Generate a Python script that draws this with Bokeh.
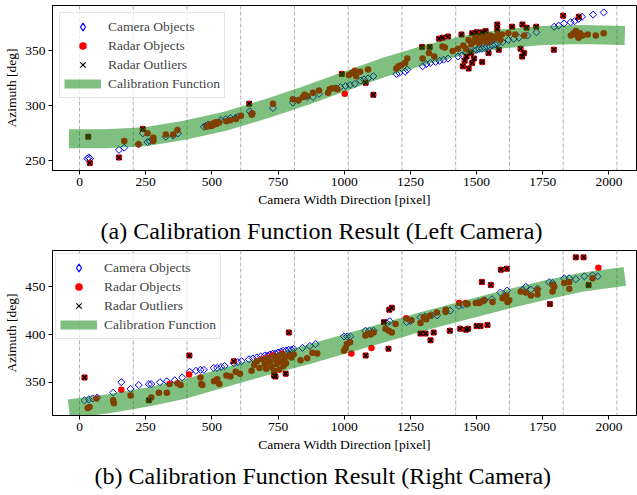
import numpy as np
from bokeh.plotting import figure
from bokeh.models import Span, Legend, LegendItem, Title, FixedTicker, Range1d
from bokeh.layouts import column
from bokeh.embed import file_html
from bokeh.resources import INLINE

FONT = "Liberation Serif"

x_ticks = [0, 250, 500, 750, 1000, 1250, 1500, 1750, 2000]
left_y_ticks = [250, 300, 350]
right_y_ticks = [350, 400, 450]
partitions = [0, 203, 406, 609, 812, 1015, 1218, 1421, 1624, 1827, 2030]

# ---------------- Left camera ----------------
left_curve_x = [-40, 100, 250, 400, 550, 700, 850, 1000, 1150, 1300, 1450, 1600, 1750, 1900, 2060]
left_curve_y = [270, 270, 272, 278, 286, 297, 309, 322, 335, 346, 355, 361, 364, 365, 364]

left_cam_x = [30, 35, 40, 149, 169, 223, 239, 257, 266, 276, 326, 354, 372, 470, 478, 486, 494, 502,
              520, 534, 553, 570, 590, 598, 643, 650, 731, 806, 827, 860, 882, 905, 968, 985, 1005,
              1022, 1040, 1062, 1075, 1090, 1110, 1197, 1208, 1230, 1238, 1296, 1310, 1325, 1345,
              1360, 1375, 1392, 1430, 1445, 1460, 1475, 1490, 1500, 1510, 1520, 1530, 1540, 1550,
              1560, 1570, 1580, 1598, 1620, 1640, 1660, 1692, 1726, 1793, 1810, 1830, 1855, 1870,
              1885, 1898, 1940, 1980]
left_cam_y = [252, 253, 252, 260, 262, 265, 275, 267, 268, 269, 272, 273, 275, 281, 282, 283, 282, 283,
              284, 287, 288, 289, 289, 290, 295, 293, 298, 303, 305, 308, 308, 311, 316, 317, 318,
              319, 320, 323, 324, 325, 327, 329, 330, 331, 333, 336, 338, 339, 340,
              341, 342, 343, 345, 346, 348, 349, 350, 351, 352, 352, 353, 354, 354,
              355, 356, 357, 358, 360, 361, 362, 364, 367, 372, 373, 375, 376, 377,
              379, 381, 383, 385]

left_radar_x = [169, 223, 257, 279, 279, 326, 354, 370, 480, 488, 495, 500, 505, 510, 515, 520, 528,
                555, 570, 591, 610, 651, 653, 731, 806, 827, 844, 850, 859, 882, 905, 939, 945, 955,
                968, 974, 1002, 1018, 1030, 1040, 1045, 1060, 1090, 1197, 1205, 1215, 1230, 1238,
                1296, 1320, 1340, 1371, 1380, 1410, 1430, 1450, 1460, 1470, 1480, 1490, 1495, 1500,
                1505, 1510, 1515, 1520, 1525, 1530, 1535, 1540, 1545, 1550, 1555, 1560, 1570, 1580,
                1590, 1596, 1620, 1646, 1680, 1856, 1866, 1875, 1880, 1885, 1890, 1900, 1920, 1950, 1980]
left_radar_y = [268, 265, 275, 271, 268, 274, 274, 278, 281, 282, 283, 282, 284, 283, 285, 284, 285,
                286, 287, 288, 291, 292, 293, 302, 306, 305, 308, 310, 309, 312, 314, 312, 315, 316,
                316, 315, 311, 328, 330, 332, 327, 331, 333, 334, 336, 337, 339, 343,
                343, 348, 345, 354, 353, 350, 352, 355, 352, 360, 356, 358, 362, 360,
                364, 357, 361, 365, 359, 362, 366, 358, 361, 364, 360, 363, 362, 365,
                360, 365, 366, 365, 364, 364, 366, 368, 364, 362, 366, 364, 365, 364, 366]

left_outlier_x = [33, 39, 149, 239, 641, 991, 1081, 1110, 1294, 1323, 1358, 1372, 1392, 1443, 1483,
                  1500, 1520, 1534, 1578, 1578, 1634, 1673, 1689, 1725, 1827, 1886, 1792, 1448, 1455,
                  1462, 1470, 1478, 1483, 1490, 1521, 1545, 1584, 1666, 1672, 1679]
left_outlier_y = [272, 248, 253, 279, 302, 329, 321, 310, 353.6, 353.6, 361, 362, 363, 365, 366,
                  367, 367, 368, 374, 370, 372, 374, 371, 372, 382, 381, 351, 336, 341,
                  345, 334, 348, 339, 343, 340, 348, 351, 352, 345, 348]

# ---------------- Right camera ----------------
right_curve_x = [-40, 100, 250, 400, 550, 700, 850, 1000, 1150, 1300, 1450, 1600, 1750, 1900, 2060]
right_curve_y = [322, 327, 334, 343, 355, 367, 378, 390, 402, 414, 425, 436, 446, 455, 461]

right_cam_x = [19, 35, 50, 67, 127, 158, 193, 224, 262, 271, 304, 330, 360, 388, 416, 440, 457, 470,
               507, 520, 535, 548, 583, 598, 612, 640, 655, 670, 685, 700, 710, 720, 730, 740, 750,
               760, 770, 780, 790, 800, 809, 842, 870, 892, 999, 1011, 1023, 1080, 1095, 1111, 1161,
               1172, 1236, 1250, 1288, 1305, 1330, 1351, 1384, 1400, 1433, 1448, 1463, 1508, 1530,
               1558, 1590, 1615, 1674, 1686, 1705, 1730, 1774, 1787, 1831, 1850, 1875, 1907, 1938, 1957]
right_cam_y = [331, 332, 333, 334, 339, 350, 343, 347, 348, 348, 350, 351, 352, 355, 361, 362, 363, 363,
               365, 365, 366, 367, 370, 371, 372, 374, 375, 376, 377, 378, 378, 379, 380, 380, 381,
               382, 383, 383, 384, 384, 385, 386, 388, 390, 398, 398, 398, 404, 404, 404, 412,
               414, 413, 414, 418, 419, 420, 420, 424, 425, 430, 431, 432, 434, 436,
               437, 444, 446, 447, 450, 447, 448, 455, 454, 459, 459, 458, 461, 462, 461]

right_radar_x = [31, 38, 64, 127, 130, 158, 193, 271, 300, 330, 340, 370, 382, 457, 460, 464, 508, 520,
                 528, 555, 570, 590, 606, 650, 660, 670, 680, 690, 700, 705, 710, 715, 720, 725, 730,
                 735, 740, 745, 750, 755, 760, 765, 770, 775, 780, 790, 800, 809, 835, 860, 880, 898,
                 999, 1005, 1010, 1022, 1080, 1090, 1100, 1111, 1156, 1168, 1180, 1194, 1234, 1254,
                 1288, 1300, 1310, 1325, 1350, 1383, 1384, 1434, 1459, 1466, 1497, 1510, 1522, 1529,
                 1560, 1598, 1611, 1617, 1623, 1667, 1686, 1705, 1730, 1730, 1787, 1793, 1787, 1831,
                 1850, 1850, 1938, 414, 1027, 1103, 1960]
right_radar_y = [323, 324, 333, 331, 328, 342, 336, 334, 339, 339, 348, 349, 347, 355, 348, 347, 351, 353,
                 348, 357, 356, 361, 359, 362, 368, 372, 365, 374, 369, 364, 376, 372, 371, 366, 378,
                 362, 374, 369, 377, 363, 372, 380, 367, 375, 370, 378, 376, 379, 373, 375, 381, 380,
                 383, 386, 390, 392, 399, 401, 400, 402, 406, 404, 402, 411, 417, 415,
                 412, 418, 416, 420, 423, 424, 426, 433, 433, 432, 433, 433, 435, 436,
                 434, 438, 441, 434, 436, 445, 444, 441, 447, 442, 452, 450, 445, 454,
                 455, 448, 459, 358, 380, 386, 470]

right_outlier_x = [19, 262, 415, 583, 735, 740, 779, 791, 1081, 1150, 1167, 1170, 1180, 1288, 1307,
                   1326, 1338, 1399, 1438, 1460, 1468, 1500, 1515, 1541, 1520, 1554, 1592, 1614,
                   1777, 1875, 1904, 1923]
right_outlier_y = [355, 331, 378, 372, 357, 356, 359, 402, 378, 413, 385, 426, 428, 401, 401,
                   394, 402, 404, 406, 405, 406, 409, 409, 410, 455, 452, 468, 469,
                   432, 481, 481, 452]


def build(caption, cap_offset, curve_x, curve_y, cam_x, cam_y, rad_x, rad_y, out_x, out_y,
          y_range, y_ticks, height, border_top, border_bottom, legend_margin):
    p = figure(width=637, height=height, x_range=Range1d(-102, 2104), y_range=Range1d(*y_range),
               output_backend="svg", toolbar_location=None,
               min_border_left=52, min_border_right=1, min_border_top=border_top,
               min_border_bottom=border_bottom)
    p.xgrid.visible = False
    p.ygrid.visible = False
    p.outline_line_color = "black"
    p.outline_line_alpha = 1
    p.outline_line_width = 1
    p.background_fill_color = "white"
    p.border_fill_color = "white"

    for loc in partitions:
        p.add_layout(Span(location=loc, dimension="height", line_color="#b0b0b0",
                          line_dash="4 2", line_width=1, level="underlay"))

    p.scatter(cam_x, cam_y, marker="square", angle=np.pi / 4, size=5,
              fill_color=None, line_color="blue", line_width=1)
    p.scatter(rad_x + out_x, rad_y + out_y, marker="circle", size=6.5,
              fill_color="red", line_color=None)
    p.scatter(out_x, out_y, marker="x", size=7, line_color="black", line_width=1.5)
    p.line(curve_x, curve_y, line_width=19, line_color="green", line_alpha=0.5,
           line_cap="butt", line_join="round")

    nan = [np.nan]
    d_cam = p.scatter(nan, nan, marker="diamond", fill_color=None, line_color="blue", line_width=1.2)
    d_rad = p.scatter(nan, nan, marker="circle", fill_color="red", line_color=None)
    d_out = p.scatter(nan, nan, marker="x", line_color="black", line_width=1.2)
    d_band = p.line(nan, nan, line_width=9, line_color="green", line_alpha=0.5)
    legend = Legend(items=[LegendItem(label="Camera Objects", renderers=[d_cam]),
                           LegendItem(label="Radar Objects", renderers=[d_rad]),
                           LegendItem(label="Radar Outliers", renderers=[d_out]),
                           LegendItem(label="Calibration Function", renderers=[d_band])],
                    location="top_left", margin=legend_margin, padding=4, spacing=0,
                    glyph_height=19, label_height=19, glyph_width=37, label_standoff=7,
                    label_text_font=FONT, label_text_font_size="13.5px",
                    border_line_color="#cccccc", border_line_width=1,
                    background_fill_color="white", background_fill_alpha=0.8)
    p.add_layout(legend)

    p.xaxis.ticker = FixedTicker(ticks=x_ticks)
    p.yaxis.ticker = FixedTicker(ticks=y_ticks)
    p.xaxis.axis_label = "Camera Width Direction [pixel]"
    p.yaxis.axis_label = "Azimuth [deg]"
    for ax in (p.xaxis[0], p.yaxis[0]):
        ax.axis_line_color = "black"
        ax.major_tick_line_color = "black"
        ax.major_tick_out = 4
        ax.major_tick_in = 0
        ax.minor_tick_out = 0
        ax.minor_tick_in = 0
        ax.major_label_text_font = FONT
        ax.major_label_text_font_size = "13.5px"
        ax.major_label_text_color = "black"
        ax.major_label_standoff = 3
        ax.axis_label_text_font = FONT
        ax.axis_label_text_font_size = "13.5px"
        ax.axis_label_text_font_style = "normal"
        ax.axis_label_text_color = "black"
        ax.axis_label_standoff = 3

    p.add_layout(Title(text=caption, align="left", offset=cap_offset, text_font=FONT,
                       text_font_size="24px", text_font_style="normal", text_color="black",
                       standoff=13), "below")
    return p


p1 = build("(a) Calibration Function Result (Left Camera)", 48, left_curve_x, left_curve_y,
           left_cam_x, left_cam_y, left_radar_x, left_radar_y, left_outlier_x, left_outlier_y,
           (241.2, 391.3), left_y_ticks, 250, 5, 79, 7)
p2 = build("(b) Calibration Function Result (Right Camera)", 42, right_curve_x, right_curve_y,
           right_cam_x, right_cam_y, right_radar_x, right_radar_y, right_outlier_x, right_outlier_y,
           (315.1, 488.1), right_y_ticks, 245, 0, 80, 3)

layout = column(p1, p2)
open("out.html", "w").write(file_html(layout, INLINE))
